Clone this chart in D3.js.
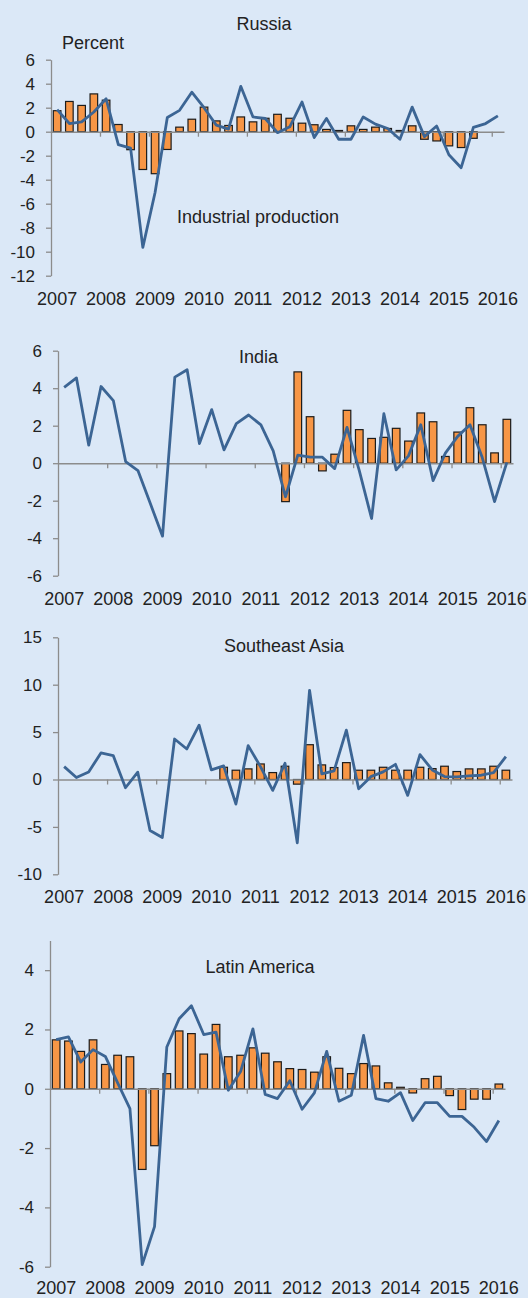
<!DOCTYPE html>
<html>
<head>
<meta charset="utf-8">
<script src="https://cdn.jsdelivr.net/npm/d3@7"></script>
<style>
  html, body { margin: 0; padding: 0; background: #dbe8f7; }
  svg { display: block; }
  text { font-family: "Liberation Sans", Arial, sans-serif; fill: #222; }
</style>
</head>
<body>
<div id="chart"></div>
<script>
// quarterly categories, 2007Q1 .. 2016Q1
const quarters = [
  "2007Q1","2007Q2","2007Q3","2007Q4","2008Q1","2008Q2","2008Q3","2008Q4",
  "2009Q1","2009Q2","2009Q3","2009Q4","2010Q1","2010Q2","2010Q3","2010Q4",
  "2011Q1","2011Q2","2011Q3","2011Q4","2012Q1","2012Q2","2012Q3","2012Q4",
  "2013Q1","2013Q2","2013Q3","2013Q4","2014Q1","2014Q2","2014Q3","2014Q4",
  "2015Q1","2015Q2","2015Q3","2015Q4","2016Q1"
];
const yearLabels = ["2007","2008","2009","2010","2011","2012","2013","2014","2015","2016"];

// Russia
const russiaBars = [1.75, 2.52, 2.19, 3.15, 2.63, 0.6, -1.5, -3.15, -3.5, -1.48, 0.38, 1.04, 2.05, 0.9, 0.52, 1.23,
  0.82, 1.12, 1.45, 1.12, 0.71, 0.58, 0.19, 0.1, 0.49, 0.19, 0.38, 0.27, 0.1, 0.49, -0.63, -0.77,
  -1.18, -1.32, -0.55, null, null];
const russiaLine = [1.84, 0.68, 0.82, 1.64, 2.74, -1.07, -1.37, -9.64, -5.07, 1.18, 1.78, 3.29, 2.0, 0.55, 0.22, 3.78,
  1.23, 1.1, -0.08, 0.41, 2.47, -0.49, 1.1, -0.63, -0.63, 1.23, 0.63, 0.27, -0.63, 2.05, -0.41, 0.47,
  -1.92, -3.0, 0.36, 0.68, 1.32];
const russiaTicks = [-12, -10, -8, -6, -4, -2, 0, 2, 4, 6];

// India
const indiaBars = [null, null, null, null, null, null, null, null, null, null, null, null, null, null, null, null,
  null, null, -2.05, 4.87, 2.48, -0.41, 0.48, 2.82, 1.79, 1.32, 1.38, 1.86, 1.18, 2.68, 2.21, 0.36,
  1.66, 2.96, 2.05, 0.55, 2.34];
const indiaLine = [4.05, 4.55, 0.96, 4.09, 3.34, 0.09, -0.39, -2.14, -3.89, 4.59, 4.98, 1.05, 2.86, 0.71, 2.11, 2.57,
  2.04, 0.66, -1.79, 0.43, 0.32, 0.32, -0.29, 1.91, -0.4, -2.95, 2.64, -0.36, 0.39, 2.05, -0.93, 0.54,
  1.43, 2.05, 0.3, -2.05, 0.04];
const indiaTicks = [-6, -4, -2, 0, 2, 4, 6];

// Southeast Asia
const seAsiaBars = [null, null, null, null, null, null, null, null, null, null, null, null, null, 1.29, 0.98, 1.12,
  1.64, 0.73, 1.4, -0.49, 3.67, 1.54, 1.26, 1.78, 0.98, 0.98, 1.29, 0.98, 0.98, 1.29, 1.15, 1.4,
  0.84, 1.12, 1.12, 1.4, 0.98];
const seAsiaLine = [1.36, 0.21, 0.8, 2.8, 2.52, -0.87, 0.77, -5.38, -6.12, 4.27, 3.22, 5.73, 1.01, 1.43, -2.59, 3.57,
  1.36, -1.15, 1.71, -6.68, 9.41, 0.59, 0.91, 5.21, -0.98, 0.3, 0.8, 1.6, -1.68, 2.62, 1.01, 0.31,
  0.28, 0.38, 0.45, 0.73, 2.41];
const seAsiaTicks = [-10, -5, 0, 5, 10, 15];

// Latin America
const latamBars = [1.65, 1.61, 1.26, 1.65, 0.82, 1.13, 1.08, -2.72, -1.92, 0.51, 1.95, 1.86, 1.17, 2.17, 1.08, 1.13,
  1.38, 1.2, 0.91, 0.68, 0.65, 0.56, 1.08, 0.69, 0.51, 0.85, 0.77, 0.2, 0.05, -0.14, 0.34, 0.42,
  -0.23, -0.7, -0.35, -0.35, 0.16];
const latamLine = [1.66, 1.75, 0.9, 1.32, 1.09, 0.2, -0.67, -5.93, -4.65, 1.41, 2.36, 2.8, 1.83, 1.91, -0.05, 0.58,
  2.02, -0.19, -0.33, 0.27, -0.69, -0.14, 1.26, -0.42, -0.22, 1.8, -0.33, -0.42, -0.13, -1.07, -0.47, -0.47,
  -0.93, -0.93, -1.3, -1.78, -1.07];
const latamTicks = [-6, -4, -2, 0, 2, 4];

const COLORS = { bg: "#dbe8f7", bar: "#f79646", barStroke: "#1c1c1c", line: "#3c6594", axis: "#8c8c8c" };

const width = 528, height = 1298;

// panel layout (pixel geometry only)
const panels = [
  { title: "Russia", bars: russiaBars, line: russiaLine, ticks: russiaTicks, domain: [-12, 6],
    left: 51, right: 504, top: 59.7, bottom: 275.7, titleX: 264, titleY: 29.5, labelY: 305,
    notes: [{ text: "Percent", x: 62, y: 48.5 }, { text: "Industrial production", x: 177, y: 222.5 }] },
  { title: "India", bars: indiaBars, line: indiaLine, ticks: indiaTicks, domain: [-6, 6],
    left: 58, right: 513, top: 350.7, bottom: 575.7, titleX: 258.5, titleY: 363, labelY: 605, notes: [] },
  { title: "Southeast Asia", bars: seAsiaBars, line: seAsiaLine, ticks: seAsiaTicks, domain: [-10, 15],
    left: 58, right: 512, top: 637.3, bottom: 874.3, titleX: 284, titleY: 652.3, labelY: 902.5, notes: [] },
  { title: "Latin America", bars: latamBars, line: latamLine, ticks: latamTicks, domain: [-6, 5],
    left: 50, right: 505, top: 940.5, bottom: 1266.7, titleX: 260, titleY: 973, labelY: 1293.5, notes: [] }
];

const svg = d3.select("#chart").append("svg")
  .attr("width", width)
  .attr("height", height);

svg.append("rect")
  .attr("width", width)
  .attr("height", height)
  .attr("fill", COLORS.bg);

function drawPanel(p) {
  const g = svg.append("g");

  const x = d3.scaleBand()
    .domain(quarters)
    .range([p.left, p.right])
    .paddingInner(0.38)
    .paddingOuter(0.19);

  // category edges, for the tick marks on the zero line
  const xEdge = d3.scaleLinear()
    .domain([0, quarters.length])
    .range([p.left, p.right]);

  const y = d3.scaleLinear()
    .domain(p.domain)
    .range([p.bottom, p.top]);

  // y axis (plain hyphen for negatives, like the original)
  const yAxis = g.append("g")
    .attr("transform", `translate(${p.left},0)`)
    .call(d3.axisLeft(y)
      .tickValues(p.ticks)
      .tickFormat(d => String(d))
      .tickSize(5)
      .tickSizeOuter(0)
      .tickPadding(11));
  yAxis.select(".domain").attr("stroke", COLORS.axis).attr("stroke-width", 1.3);
  yAxis.selectAll(".tick line").attr("stroke", COLORS.axis).attr("stroke-width", 1.3);
  yAxis.selectAll(".tick text")
    .attr("font-size", 17)
    .style("font-family", "'Liberation Sans', Arial, sans-serif")
    .attr("fill", "#222");

  // bars
  const barData = quarters
    .map((q, i) => ({ q, v: p.bars[i] }))
    .filter(d => d.v != null);

  g.selectAll("rect.bar")
    .data(barData)
    .join("rect")
    .attr("class", "bar")
    .attr("x", d => x(d.q))
    .attr("width", x.bandwidth())
    .attr("y", d => y(Math.max(0, d.v)))
    .attr("height", d => Math.abs(y(d.v) - y(0)))
    .attr("fill", COLORS.bar)
    .attr("stroke", COLORS.barStroke)
    .attr("stroke-width", 1.2);

  // zero line with yearly tick marks
  const zeroAxis = g.append("g")
    .attr("transform", `translate(0,${y(0)})`)
    .call(d3.axisBottom(xEdge)
      .tickValues(d3.range(4, quarters.length, 4))
      .tickFormat("")
      .tickSize(5)
      .tickSizeOuter(0));
  zeroAxis.select(".domain").attr("stroke", COLORS.axis).attr("stroke-width", 1.5);
  zeroAxis.selectAll(".tick line").attr("stroke", COLORS.axis).attr("stroke-width", 1.3);

  // line
  const line = d3.line()
    .x((d, i) => x(quarters[i]) + x.bandwidth() / 2)
    .y(d => y(d));

  g.append("path")
    .datum(p.line)
    .attr("fill", "none")
    .attr("stroke", COLORS.line)
    .attr("stroke-width", 2.8)
    .attr("stroke-linejoin", "round")
    .attr("d", line);

  // year labels below the plot
  const labelAxis = g.append("g")
    .attr("transform", `translate(0,${p.labelY})`)
    .call(d3.axisBottom(x)
      .tickValues(quarters.filter((q, i) => i % 4 === 0))
      .tickFormat(q => yearLabels[quarters.indexOf(q) / 4])
      .tickSize(0)
      .tickPadding(0));
  labelAxis.select(".domain").remove();
  labelAxis.selectAll(".tick text")
    .attr("y", 0)
    .attr("dy", 0)
    .attr("font-size", 18)
    .style("font-family", "'Liberation Sans', Arial, sans-serif")
    .attr("fill", "#222");

  // title
  g.append("text")
    .attr("x", p.titleX)
    .attr("y", p.titleY)
    .attr("text-anchor", "middle")
    .attr("font-size", 18)
    .text(p.title);

  p.notes.forEach(n => {
    g.append("text")
      .attr("x", n.x)
      .attr("y", n.y)
      .attr("font-size", 18)
      .text(n.text);
  });
}

panels.forEach(drawPanel);
</script>
</body>
</html>
